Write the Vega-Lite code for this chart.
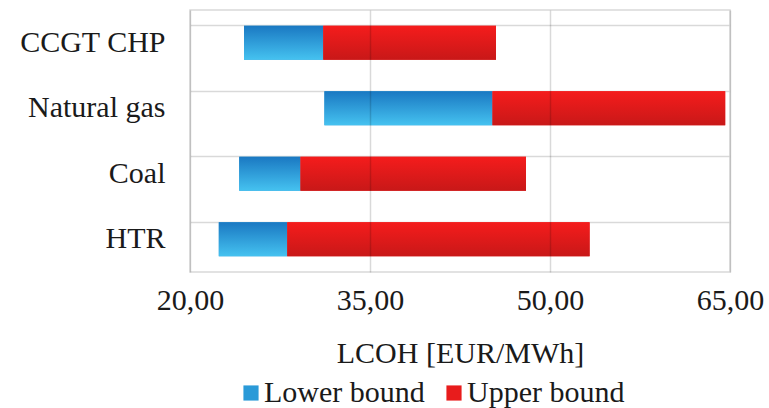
{
  "$schema": "https://vega.github.io/schema/vega-lite/v6.json",
  "width": 540,
  "height": 262,
  "autosize": "none",
  "padding": {"left": 190, "top": 10, "right": 39, "bottom": 136},
  "background": "white",
  "config": {
    "font": "'Liberation Serif', 'Times New Roman', Times, serif",
    "view": {"stroke": "#d9d9d9", "strokeWidth": 1.5}
  },
  "data": {
    "values": [
      {"tech": "CCGT CHP", "type": "Lower bound", "start": 24.5, "end": 31.1},
      {"tech": "CCGT CHP", "type": "Upper bound", "start": 31.1, "end": 45.5},
      {"tech": "Natural gas", "type": "Lower bound", "start": 31.2, "end": 45.2},
      {"tech": "Natural gas", "type": "Upper bound", "start": 45.2, "end": 64.6},
      {"tech": "Coal", "type": "Lower bound", "start": 24.1, "end": 29.2},
      {"tech": "Coal", "type": "Upper bound", "start": 29.2, "end": 48.0},
      {"tech": "HTR", "type": "Lower bound", "start": 22.4, "end": 28.1},
      {"tech": "HTR", "type": "Upper bound", "start": 28.1, "end": 53.3}
    ]
  },
  "encoding": {
    "y": {
      "field": "tech",
      "type": "nominal",
      "sort": ["CCGT CHP", "Natural gas", "Coal", "HTR"],
      "scale": {"paddingInner": 0.48, "paddingOuter": 0.24},
      "axis": {
        "title": null,
        "bandPosition": 0,
        "grid": true,
        "gridColor": "#d9d9d9",
        "gridWidth": 1.5,
        "ticks": false,
        "domain": false,
        "labelFontSize": 30,
        "labelColor": "#1a1a1a",
        "labelPadding": 25,
        "labelLimit": 300
      }
    },
    "x": {
      "field": "start",
      "type": "quantitative",
      "scale": {"domain": [20, 65], "nice": false, "zero": false},
      "axis": {
        "values": [20, 35, 50, 65],
        "labelExpr": "replace(format(datum.value, '.2f'), '.', ',')",
        "title": "LCOH [EUR/MWh]",
        "titleFontSize": 30,
        "titleFontWeight": "normal",
        "titleColor": "#1a1a1a",
        "titlePadding": 23,
        "labelFontSize": 30,
        "labelColor": "#1a1a1a",
        "labelPadding": 13,
        "labelFlush": false,
        "ticks": false,
        "domain": false,
        "grid": true,
        "gridColor": "#000000",
        "gridOpacity": 0.15,
        "gridWidth": 1.5,
        "zindex": 1
      }
    },
    "x2": {"field": "end"}
  },
  "layer": [
    {
      "mark": {"type": "bar"},
      "encoding": {
        "color": {
          "field": "type",
          "type": "nominal",
          "scale": {"domain": ["Lower bound", "Upper bound"], "range": ["#2a9ad8", "#e81c1c"]},
          "legend": {
            "title": null,
            "orient": "none",
            "direction": "horizontal",
            "legendX": 46,
            "legendY": 368,
            "symbolType": "square",
            "symbolSize": 230,
            "symbolStrokeWidth": 0,
            "labelFontSize": 30,
            "labelColor": "#1a1a1a",
            "labelOffset": -2,
            "labelLimit": 400,
            "columnPadding": 14
          }
        }
      }
    },
    {
      "mark": {"type": "bar"},
      "encoding": {
        "fill": {
          "condition": {
            "test": "datum.type === 'Lower bound'",
            "value": {"gradient": "linear", "x1": 0, "y1": 0, "x2": 0, "y2": 1,
              "stops": [{"offset": 0, "color": "#1a78c2"}, {"offset": 1, "color": "#45c2f0"}]}
          },
          "value": {"gradient": "linear", "x1": 0, "y1": 0, "x2": 0, "y2": 1,
            "stops": [{"offset": 0, "color": "#f51c1c"}, {"offset": 1, "color": "#c81818"}]}
        }
      }
    }
  ]
}
